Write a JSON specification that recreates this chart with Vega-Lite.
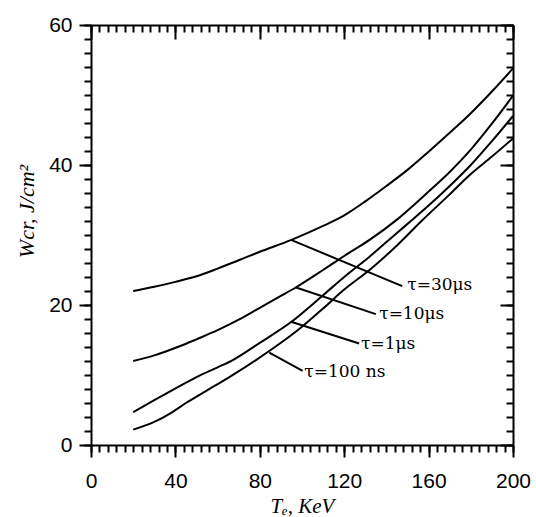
{
  "$schema": "https://vega.github.io/schema/vega-lite/v6.json",
  "width": 422,
  "height": 420,
  "autosize": {"type": "none"},
  "padding": {"left": 91, "top": 25, "right": 23, "bottom": 72},
  "background": "white",
  "config": {
    "view": {"stroke": null},
    "axis": {"grid": false, "domainColor": "black", "tickColor": "black", "domainWidth": 2, "tickWidth": 2, "labelColor": "black", "titleColor": "black"}
  },
  "datasets": {
    "curves": [
      {"s": "30", "T": 20, "W": 22.0}, {"s": "30", "T": 30, "W": 22.6}, {"s": "30", "T": 40, "W": 23.3}, {"s": "30", "T": 50, "W": 24.1}, {"s": "30", "T": 60, "W": 25.2}, {"s": "30", "T": 70, "W": 26.4}, {"s": "30", "T": 80, "W": 27.6}, {"s": "30", "T": 95, "W": 29.3}, {"s": "30", "T": 110, "W": 31.3}, {"s": "30", "T": 120, "W": 32.8}, {"s": "30", "T": 130, "W": 34.8}, {"s": "30", "T": 140, "W": 37.0}, {"s": "30", "T": 150, "W": 39.3}, {"s": "30", "T": 160, "W": 41.9}, {"s": "30", "T": 170, "W": 44.6}, {"s": "30", "T": 180, "W": 47.4}, {"s": "30", "T": 190, "W": 50.5}, {"s": "30", "T": 200, "W": 53.8},
      {"s": "10", "T": 20, "W": 12.0}, {"s": "10", "T": 30, "W": 12.8}, {"s": "10", "T": 42, "W": 14.1}, {"s": "10", "T": 50, "W": 15.1}, {"s": "10", "T": 60, "W": 16.4}, {"s": "10", "T": 70, "W": 17.9}, {"s": "10", "T": 80, "W": 19.6}, {"s": "10", "T": 90, "W": 21.3}, {"s": "10", "T": 97, "W": 22.5}, {"s": "10", "T": 110, "W": 25.0}, {"s": "10", "T": 120, "W": 27.0}, {"s": "10", "T": 132, "W": 29.3}, {"s": "10", "T": 145, "W": 32.2}, {"s": "10", "T": 160, "W": 36.2}, {"s": "10", "T": 170, "W": 39.0}, {"s": "10", "T": 180, "W": 42.2}, {"s": "10", "T": 190, "W": 45.9}, {"s": "10", "T": 200, "W": 49.9},
      {"s": "1", "T": 20, "W": 4.7}, {"s": "1", "T": 30, "W": 6.4}, {"s": "1", "T": 42, "W": 8.4}, {"s": "1", "T": 50, "W": 9.7}, {"s": "1", "T": 60, "W": 11.1}, {"s": "1", "T": 67, "W": 12.1}, {"s": "1", "T": 80, "W": 14.6}, {"s": "1", "T": 95, "W": 17.6}, {"s": "1", "T": 110, "W": 21.4}, {"s": "1", "T": 120, "W": 24.0}, {"s": "1", "T": 132, "W": 26.9}, {"s": "1", "T": 145, "W": 30.3}, {"s": "1", "T": 152, "W": 32.1}, {"s": "1", "T": 160, "W": 34.2}, {"s": "1", "T": 170, "W": 37.0}, {"s": "1", "T": 180, "W": 40.0}, {"s": "1", "T": 190, "W": 43.4}, {"s": "1", "T": 200, "W": 47.0},
      {"s": "0.1", "T": 20, "W": 2.2}, {"s": "0.1", "T": 30, "W": 3.3}, {"s": "0.1", "T": 38, "W": 4.6}, {"s": "0.1", "T": 45, "W": 6.0}, {"s": "0.1", "T": 55, "W": 7.8}, {"s": "0.1", "T": 65, "W": 9.6}, {"s": "0.1", "T": 78, "W": 12.1}, {"s": "0.1", "T": 90, "W": 14.6}, {"s": "0.1", "T": 100, "W": 16.9}, {"s": "0.1", "T": 110, "W": 19.5}, {"s": "0.1", "T": 120, "W": 22.2}, {"s": "0.1", "T": 132, "W": 25.0}, {"s": "0.1", "T": 145, "W": 28.5}, {"s": "0.1", "T": 157, "W": 32.1}, {"s": "0.1", "T": 170, "W": 35.8}, {"s": "0.1", "T": 180, "W": 38.7}, {"s": "0.1", "T": 190, "W": 41.2}, {"s": "0.1", "T": 200, "W": 43.8}
    ],
    "leaders": [
      {"x": 94.8, "y": 29.3, "x2": 147.5, "y2": 22.7},
      {"x": 97.2, "y": 22.5, "x2": 135.0, "y2": 18.7},
      {"x": 94.8, "y": 17.6, "x2": 127.1, "y2": 14.5},
      {"x": 84.5, "y": 13.2, "x2": 100.3, "y2": 10.6}
    ],
    "labels": [
      {"x": 149.9, "y": 22.8, "text": "τ=30μs"},
      {"x": 136.6, "y": 18.7, "text": "τ=10μs"},
      {"x": 128.0, "y": 14.4, "text": "τ=1μs"},
      {"x": 101.1, "y": 10.4, "text": "τ=100 ns"}
    ]
  },
  "layer": [
    {
      "data": {"name": "curves"},
      "mark": {"type": "line", "color": "black", "strokeWidth": 2, "interpolate": "monotone"},
      "encoding": {
        "x": {"field": "T", "type": "quantitative", "scale": {"domain": [0, 200], "nice": false},
          "axis": {"orient": "bottom", "values": [0, 40, 80, 120, 160, 200], "tickSize": 12, "labelPadding": 13, "labelFont": "Liberation Sans", "labelFontSize": 21, "labelFlush": false, "labelOverlap": false,
            "title": "Tₑ, KeV", "titleFont": "Liberation Serif", "titleFontSize": 21, "titleFontStyle": "italic", "titleFontWeight": "normal", "titlePadding": 4}},
        "y": {"field": "W", "type": "quantitative", "scale": {"domain": [0, 60], "nice": false},
          "axis": {"orient": "left", "values": [0, 20, 40, 60], "tickSize": 12, "labelPadding": 7, "labelFont": "Liberation Sans", "labelFontSize": 21, "labelFlush": false, "labelOverlap": false,
            "title": "Wcr, J/cm²", "titleFont": "Liberation Serif", "titleFontSize": 22, "titleFontStyle": "italic", "titleFontWeight": "normal", "titlePadding": 10, "titleY": 186}},
        "detail": {"field": "s", "type": "nominal"}
      }
    },
    {
      "data": {"name": "leaders"},
      "mark": {"type": "rule", "color": "black", "strokeWidth": 2},
      "encoding": {
        "x": {"field": "x", "type": "quantitative",
          "axis": {"orient": "bottom", "values": [0,4,8,12,16,20,24,28,32,36,40,44,48,52,56,60,64,68,72,76,80,84,88,92,96,100,104,108,112,116,120,124,128,132,136,140,144,148,152,156,160,164,168,172,176,180,184,188,192,196,200], "tickSize": 7, "labels": false, "domain": false, "title": null}},
        "y": {"field": "y", "type": "quantitative",
          "axis": {"orient": "left", "values": [0,2,4,6,8,10,12,14,16,18,20,22,24,26,28,30,32,34,36,38,40,42,44,46,48,50,52,54,56,58,60], "tickSize": 7, "labels": false, "domain": false, "title": null}},
        "x2": {"field": "x2"},
        "y2": {"field": "y2"}
      }
    },
    {
      "data": {"name": "labels"},
      "mark": {"type": "text", "align": "left", "baseline": "middle", "font": "DejaVu Serif", "fontSize": 17, "color": "black"},
      "encoding": {
        "x": {"field": "x", "type": "quantitative",
          "axis": {"orient": "top", "values": [0, 40, 80, 120, 160, 200], "tickSize": -14, "labels": false, "title": null}},
        "y": {"field": "y", "type": "quantitative",
          "axis": {"orient": "right", "values": [0, 20, 40, 60], "tickSize": -13, "labels": false, "title": null}},
        "text": {"field": "text", "type": "nominal"}
      }
    },
    {
      "data": {"name": "curves"},
      "mark": {"type": "point", "opacity": 0},
      "encoding": {
        "x": {"field": "T", "type": "quantitative",
          "axis": {"orient": "top", "values": [0,4,8,12,16,20,24,28,32,36,40,44,48,52,56,60,64,68,72,76,80,84,88,92,96,100,104,108,112,116,120,124,128,132,136,140,144,148,152,156,160,164,168,172,176,180,184,188,192,196,200], "tickSize": -7, "labels": false, "domain": false, "title": null}},
        "y": {"field": "W", "type": "quantitative",
          "axis": {"orient": "right", "values": [0,2,4,6,8,10,12,14,16,18,20,22,24,26,28,30,32,34,36,38,40,42,44,46,48,50,52,54,56,58,60], "tickSize": -7, "labels": false, "domain": false, "title": null}}
      }
    }
  ],
  "resolve": {"axis": {"x": "independent", "y": "independent"}}
}
